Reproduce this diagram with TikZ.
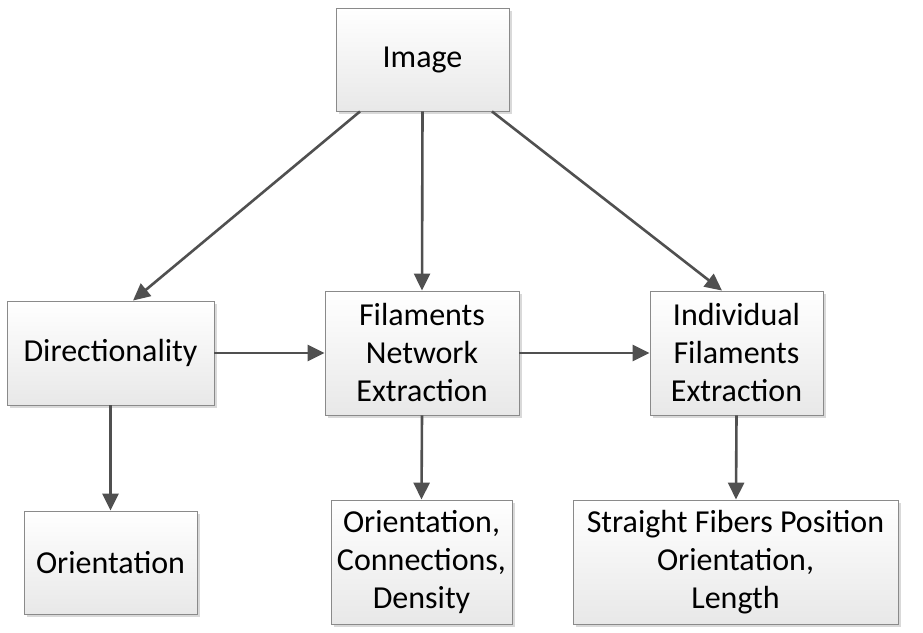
\documentclass[tikz,border=0pt]{standalone}
\usepackage{fontspec}
\setmainfont{Carlito}
\usetikzlibrary{arrows.meta,shadows}
\definecolor{arrowgray}{HTML}{505050}
\definecolor{boxline}{HTML}{8A8A8A}
\tikzset{
  box/.style={draw=boxline, line width=0.9pt, top color=white, bottom color=black!9,
    shading angle=0, inner sep=0pt, align=center,
    font=\fontsize{32}{38}\selectfont,
    drop shadow={shadow xshift=3pt, shadow yshift=-3pt, opacity=0.25, fill=black!60}},
  link/.style={draw=arrowgray, line width=2.6pt,
    -{Triangle[length=17pt,width=16pt]}, shorten >=0pt}
}
\begin{document}
\begin{tikzpicture}[x=1pt,y=-1pt]
\useasboundingbox (0,0) rectangle (923,632);
\node[box, minimum width=173pt, minimum height=103pt] (img) at (422.5,59.5) {Image};
\node[box, minimum width=207pt, minimum height=104pt] (dir) at (110.5,353) {Directionality};
\node[box, minimum width=194pt, minimum height=124pt] (fne) at (422,353) {Filaments\\Network\\Extraction};
\node[box, minimum width=173pt, minimum height=124pt] (ife) at (736.5,353) {Individual\\Filaments\\Extraction};
\node[box, minimum width=173pt, minimum height=103pt] (ori) at (110.5,562.5) {Orientation};
\node[box, minimum width=181pt, minimum height=124pt] (occ) at (421.5,562) {Orientation,\\Connections,\\Density};
\node[box, minimum width=325pt, minimum height=124pt] (sfp) at (735.5,562) {Straight Fibers Position\\Orientation,\\Length};
\draw[link] ([xshift=-62.5pt]img.south) -- ([xshift=22.5pt]dir.north);
\draw[link] (img.south) -- (fne.north);
\draw[link] ([xshift=69.5pt]img.south) -- ([xshift=-14.5pt]ife.north);
\draw[link] (dir.east) -- (fne.west);
\draw[link] (fne.east) -- (ife.west);
\draw[link] (dir.south) -- (ori.north);
\draw[link] (fne.south) -- (occ.north);
\draw[link] (ife.south) -- ([xshift=0.5pt]sfp.north);
\end{tikzpicture}
\end{document}
